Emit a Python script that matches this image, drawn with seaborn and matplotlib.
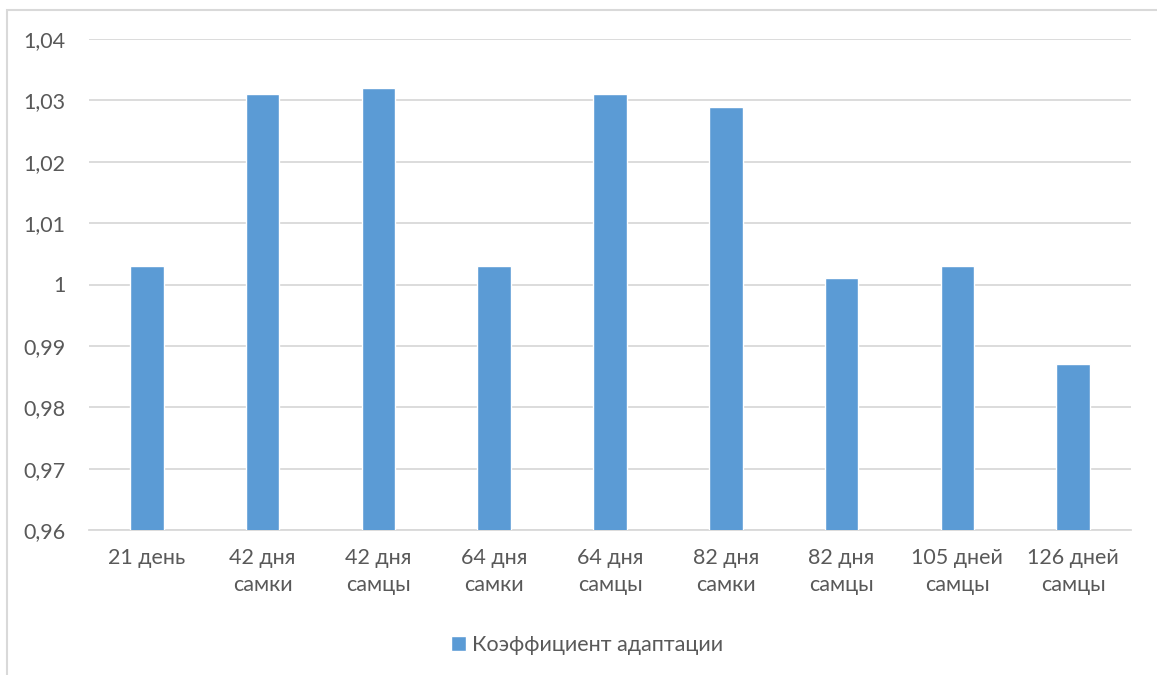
import matplotlib
matplotlib.use("Agg")
import matplotlib.pyplot as plt
from matplotlib.patches import Rectangle
from matplotlib.ticker import FuncFormatter, MultipleLocator
import seaborn as sns
import pandas as pd

categories = ["21 день", "42 дня\nсамки", "42 дня\nсамцы", "64 дня\nсамки", "64 дня\nсамцы",
              "82 дня\nсамки", "82 дня\nсамцы", "105 дней\nсамцы", "126 дней\nсамцы"]
values = [1.003, 1.031, 1.032, 1.003, 1.031, 1.029, 1.001, 1.003, 0.987]
series_name = "Коэффициент адаптации"

sns.set_theme(style="white")
plt.rcParams["font.family"] = ["Lato", "DejaVu Sans"]

df = pd.DataFrame({"cat": categories, "val": values, "series": series_name})

fig = plt.figure(figsize=(11.57, 6.75), dpi=100)
ax = fig.add_axes([89 / 1157, 1 - 530 / 675, (1131 - 89) / 1157, (530 - 39) / 675])

sns.barplot(data=df, x="cat", y="val", hue="series", palette=["#5B9BD5"],
            width=0.29, ax=ax, saturation=1, zorder=3)

ax.set_ylim(0.96, 1.04)
ax.yaxis.set_major_locator(MultipleLocator(0.01))
def fmt(v, _):
    s = f"{v:.2f}".rstrip("0").rstrip(".")
    return s.replace(".", ",")
ax.yaxis.set_major_formatter(FuncFormatter(fmt))
ax.grid(axis="y", color="#D9D9D9", linewidth=1.3, zorder=0)
ax.set_xlabel("")
ax.set_ylabel("")
for side in ["top", "right", "left"]:
    ax.spines[side].set_visible(False)
ax.spines["bottom"].set_color("#D9D9D9")
ax.spines["bottom"].set_linewidth(1.3)
ax.tick_params(axis="both", length=0, colors="#595959", labelsize=15.5)
ax.tick_params(axis="y", pad=17)
ax.tick_params(axis="x", pad=13)
for lbl in ax.get_xticklabels():
    lbl.set_linespacing(1.45)

leg = ax.legend(loc="center", bbox_to_anchor=(587 / 1157, 1 - 645 / 675),
                bbox_transform=fig.transFigure, frameon=False, fontsize=15.5,
                handlelength=0.7, handleheight=0.7, handletextpad=0.25)
for t in leg.get_texts():
    t.set_color("#595959")

fig.patches.append(Rectangle((7 / 1157, -0.1), 1.2, 1 - 9.5 / 675 + 0.1,
                             transform=fig.transFigure, fill=False,
                             edgecolor="#D9D9D9", linewidth=1.5))

fig.savefig("out.png", dpi=100)
